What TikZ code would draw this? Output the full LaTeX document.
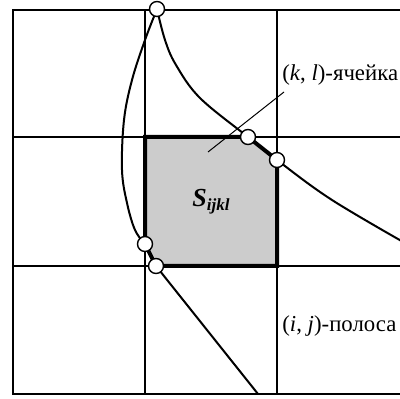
\documentclass[tikz,border=0pt]{standalone}
\usepackage{fontspec}
\setmainfont{Liberation Serif}
\usepackage{tikz}

\begin{document}
\begin{tikzpicture}[x=0.5pt, y=-0.5pt, every node/.style={font=\fontsize{11.4}{13}\selectfont},
    knot/.style={circle, draw, fill=white, line width=0.7pt, inner sep=0pt, minimum size=7.5pt},
    gridline/.style={line width=1pt},
    bound/.style={line width=1pt, line join=round},
    cellbd/.style={line width=2pt, fill=black!20, line join=miter}]
    \useasboundingbox (0,0) rectangle (400,399);
    % grid of cells
    \draw[gridline] (13,10) rectangle (412,394);
    \draw[gridline] (145,10) -- (145,394) (277,10) -- (277,394);
    \draw[gridline] (13,137) -- (412,137) (13,266) -- (412,266);
    % points where the strip meets the grid
    \coordinate (apex) at (157,9);
    \coordinate (ctop) at (248,137);
    \coordinate (cright) at (277,160);
    \coordinate (cleft) at (145,244);
    \coordinate (cbot) at (156,266);
    % the (k,l) cell cut by the strip
    \draw[cellbd] (145,137) -- (ctop) -- (cright) -- (277,266) -- (cbot) -- (cleft) -- cycle;
    % strip boundaries
    \draw[bound] plot[smooth, tension=0.6] coordinates {(157,9) (165,40) (176,65) (200,98)
      (248,137) (277,160) (332,200) (412,247)};
    \draw[bound] plot[smooth, tension=0.6] coordinates {(157,9) (145,40) (132,80) (124,120)
      (122,170) (127,203) (135,230) (145,244)};
    \draw[bound] (cleft) -- (cbot) -- (258,394);
    \node[knot] (p1) at (apex) {};
    \node[knot] (p2) at (ctop) {};
    \node[knot] (p3) at (cright) {};
    \node[knot] (p4) at (cleft) {};
    \node[knot] (p5) at (cbot) {};
    % labels
    \node (s) at (211,202) {\fontsize{13}{15}\selectfont\bfseries\itshape S\raisebox{-2pt}{\fontsize{8.5}{9}\selectfont ijkl}};
    \node[anchor=south west, inner sep=2pt] (kl) at (278,90) {(\textit{k}, \textit{l})-ячейка};
    \node[anchor=west, inner sep=2pt] (ij) at (278,326) {(\textit{i}, \textit{j})-полоса};
    \coordinate (ptr) at (208,152);
    \draw[line width=0.5pt] (ptr) -- ([xshift=3pt,yshift=-1pt]kl.south west);
  \end{tikzpicture}
\end{document}
